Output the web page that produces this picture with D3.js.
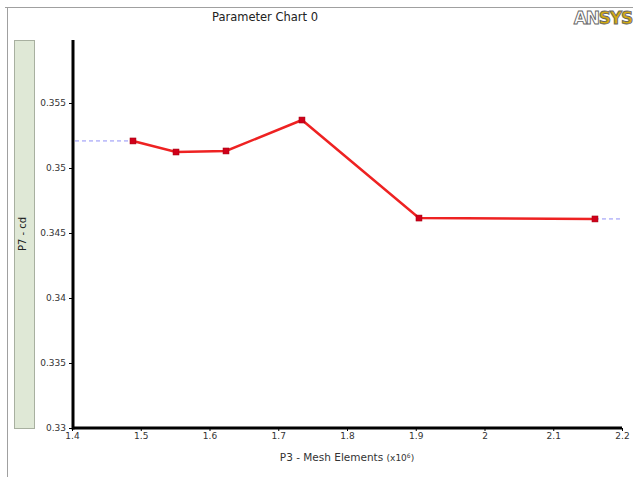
<!DOCTYPE html>
<html>
<head>
<meta charset="utf-8">
<script src="https://cdn.jsdelivr.net/npm/d3@7"></script>
<style>
  body { margin: 0; background: #fff; }
  svg text { font-family: "DejaVu Sans", sans-serif; }
</style>
</head>
<body>
<div id="chart"></div>
<script>
// mesh elements (x10^6) vs cd
var meshElements = [1.4887, 1.5513, 1.624, 1.7345, 1.9047, 2.1607];
var cdValues = [0.35208, 0.35123, 0.35131, 0.35369, 0.34615, 0.34608];
var xTicks = [1.4, 1.5, 1.6, 1.7, 1.8, 1.9, 2, 2.1, 2.2];
var yTicks = [0.33, 0.335, 0.34, 0.345, 0.35, 0.355];

var W = 633, H = 477;
var margin = { left: 72, right: 11, top: 40, bottom: 49 };

var svg = d3.select("#chart").append("svg")
    .attr("width", W)
    .attr("height", H);

// frame
svg.append("line").attr("x1", 5).attr("x2", W).attr("y1", 7.5).attr("y2", 7.5)
    .attr("stroke", "#a0a0a0");
svg.append("line").attr("x1", 7.5).attr("x2", 7.5).attr("y1", 7).attr("y2", H)
    .attr("stroke", "#a0a0a0");

var xscale = d3.scaleLinear()
    .domain([1.4, 2.2])
    .range([margin.left, W - margin.right]);

var yscale = d3.scaleLinear()
    .domain([0.33, 0.355])
    .range([H - margin.bottom, 103]);

var plotTop = margin.top;
var plotBottom = H - margin.bottom;

// title
svg.append("text")
    .attr("x", 265).attr("y", 21)
    .attr("text-anchor", "middle")
    .attr("font-size", 11.5)
    .attr("fill", "#222")
    .text("Parameter Chart 0");

// logo
var logo = svg.append("text")
    .attr("x", 632).attr("y", 24)
    .attr("text-anchor", "end")
    .attr("font-size", 17)
    .attr("font-weight", "bold")
    .attr("letter-spacing", -1.2)
    .attr("stroke", "#666")
    .attr("stroke-width", 0.9);
logo.append("tspan").attr("fill", "#fff").text("AN");
logo.append("tspan").attr("fill", "#d4aa10").text("SYS");

// y label panel
svg.append("rect")
    .attr("x", 14.5).attr("y", plotTop + 0.5)
    .attr("width", 20).attr("height", plotBottom - plotTop)
    .attr("fill", "#dfe8d6")
    .attr("stroke", "#a8b0a0");
svg.append("text")
    .attr("transform", "translate(26," + ((plotTop + plotBottom) / 2) + ") rotate(-90)")
    .attr("text-anchor", "middle")
    .attr("font-size", 10)
    .attr("fill", "#222")
    .text("P7 - cd");

// axes
var yAxis = svg.append("g")
    .attr("transform", "translate(" + margin.left + ",0)")
    .call(d3.axisLeft(yscale).tickValues(yTicks).tickSize(3).tickSizeOuter(0)
        .tickFormat(function(d){ return d3.format("")(+d.toFixed(3)); }));
yAxis.select(".domain").remove();
yAxis.selectAll("text").attr("font-size", 9).attr("fill", "#333").attr("x", -6)
    .style("font-family", "DejaVu Sans, sans-serif");

var xAxis = svg.append("g")
    .attr("transform", "translate(0," + plotBottom + ")")
    .call(d3.axisBottom(xscale).tickValues(xTicks).tickSize(3).tickSizeOuter(0)
        .tickFormat(function(d){ return +d.toFixed(1); }));
xAxis.select(".domain").remove();
xAxis.selectAll("text").attr("font-size", 9).attr("fill", "#333").attr("y", 5)
    .style("font-family", "DejaVu Sans, sans-serif");

svg.append("line")
    .attr("x1", margin.left + 1).attr("x2", margin.left + 1)
    .attr("y1", plotTop).attr("y2", plotBottom + 1.5)
    .attr("stroke", "#000").attr("stroke-width", 3);
svg.append("line")
    .attr("x1", margin.left).attr("x2", W - margin.right)
    .attr("y1", plotBottom).attr("y2", plotBottom)
    .attr("stroke", "#000").attr("stroke-width", 3);

// x label
var xl = svg.append("text")
    .attr("x", (margin.left + W - margin.right) / 2).attr("y", 461)
    .attr("text-anchor", "middle")
    .attr("font-size", 10.5)
    .attr("fill", "#333")
    .text("P3 - Mesh Elements  ");
xl.append("tspan").attr("font-size", 9).text("(x10");
xl.append("tspan").attr("font-size", 6).attr("dy", -3).text("6");
xl.append("tspan").attr("font-size", 9).attr("dy", 3).text(")");

// dashed extensions
var n = meshElements.length;
svg.append("line")
    .attr("x1", margin.left + 3).attr("x2", xscale(meshElements[0]))
    .attr("y1", yscale(cdValues[0])).attr("y2", yscale(cdValues[0]))
    .attr("stroke", "#c0c0fa").attr("stroke-width", 1.8)
    .attr("stroke-dasharray", "4,3");
svg.append("line")
    .attr("x1", xscale(meshElements[n - 1])).attr("x2", xscale(2.2))
    .attr("y1", yscale(cdValues[n - 1])).attr("y2", yscale(cdValues[n - 1]))
    .attr("stroke", "#c0c0fa").attr("stroke-width", 1.8)
    .attr("stroke-dasharray", "4,3");

var points = d3.zip(meshElements, cdValues);

svg.append("path")
    .datum(points)
    .attr("fill", "none")
    .attr("stroke", "#ee2222")
    .attr("stroke-width", 2.5)
    .attr("d", d3.line()
        .x(function(d){ return xscale(d[0]); })
        .y(function(d){ return yscale(d[1]); }));

svg.selectAll(".pt").data(points)
    .enter().append("rect")
        .attr("class", "pt")
        .attr("x", function(d){ return xscale(d[0]) - 3; })
        .attr("y", function(d){ return yscale(d[1]) - 3; })
        .attr("width", 6).attr("height", 6)
        .attr("fill", "#d0001a")
        .attr("stroke", "#a00010")
        .attr("stroke-width", 0.5);
</script>
</body>
</html>
